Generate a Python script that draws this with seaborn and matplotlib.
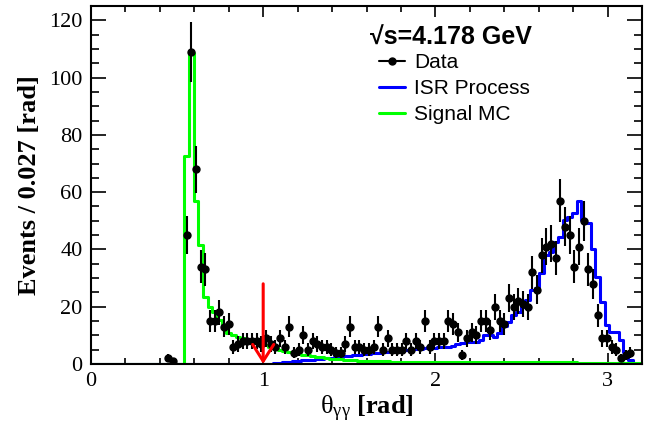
import numpy as np
import pandas as pd
import matplotlib
matplotlib.use('Agg')
import matplotlib.pyplot as plt
from matplotlib.lines import Line2D
from matplotlib.ticker import MultipleLocator
import seaborn as sns

# binning: 118 bins of ~0.027 rad over [0, 3.2]
N_BINS = 118
X_MAX = 3.2

# observed events per bin (empty bins are not drawn)
data_counts = [
    0, 0, 0, 0, 0, 0, 0, 0, 0, 0,
    0, 0, 0, 0, 0, 0, 2, 1, 0, 0,
    45, 109, 68, 34, 33, 15, 15, 18, 13, 14,
    6, 7, 8, 8, 8, 8, 7, 9, 7, 6,
    9, 6, 13, 4, 5, 10, 5, 8, 7, 6,
    6, 5, 4, 4, 7, 13, 6, 6, 5, 5,
    6, 13, 5, 9, 5, 5, 5, 8, 5, 8,
    6, 15, 6, 8, 8, 8, 15, 14, 11, 3,
    9, 11, 10, 15, 15, 12, 20, 15, 14, 23,
    20, 22, 21, 20, 32, 26, 38, 41, 42, 37,
    57, 48, 45, 34, 41, 50, 33, 28, 17, 9,
    9, 6, 5, 2, 3, 4, 0, 0,
]

# ISR background prediction per bin
isr_counts = [
    0, 0, 0, 0, 0, 0, 0, 0, 0, 0,
    0, 0, 0, 0, 0, 0, 0, 0, 0, 0,
    0, 0, 0, 0, 0, 0, 0, 0, 0, 0,
    0, 0, 0, 0, 0, 0, 0, 0, 0, 0.3,
    0.5, 0.6, 0.8, 1.0, 1.1, 1.3, 1.4, 1.5, 1.7, 1.9,
    2.0, 2.2, 2.3, 2.5, 2.7, 2.9, 3.0, 3.2, 3.5, 3.6,
    3.8, 4.0, 4.2, 4.3, 4.5, 4.6, 4.9, 4.8, 5.0, 5.1,
    5.3, 5.6, 5.8, 5.7, 5.9, 6.0, 6.1, 6.3, 7.0, 7.5,
    7.6, 7.8, 7.8, 8.4, 10.0, 10.0, 9.5, 10.8, 13.4, 14.8,
    17.1, 18.3, 20.0, 22.3, 25.8, 26.6, 31.6, 38.0, 39.2, 42.7,
    44.4, 50.2, 51.4, 52.6, 57.0, 50.2, 49.3, 40.0, 30.5, 21.7,
    13.6, 11.3, 11.3, 8.4, 4.3, 1.4, 0, 0,
]

# signal MC shape per bin
signal_counts = [
    0, 0, 0, 0, 0, 0, 0, 0, 0, 0,
    0, 0, 0, 0, 0, 0, 0, 0, 0, 0,
    72.5, 108.6, 57.0, 41.5, 23.5, 20.0, 18.3, 15.3, 12.4, 10.7,
    10.0, 9.6, 9.0, 8.4, 8.0, 7.6, 7.2, 6.6, 6.0, 5.5,
    5.0, 4.6, 4.2, 3.8, 3.5, 3.2, 3.0, 2.7, 2.5, 2.3,
    2.1, 1.9, 1.8, 1.6, 1.5, 1.4, 1.3, 1.2, 1.1, 1.05,
    1.0, 0.95, 0.9, 0.9, 0.85, 0.85, 0.8, 0.8, 0.8, 0.75,
    0.75, 0.7, 0.7, 0.7, 0.7, 0.65, 0.65, 0.65, 0.65, 0.6,
    0.6, 0.6, 0.6, 0.6, 0.6, 0.6, 0.6, 0.6, 0.6, 0.6,
    0.6, 0.6, 0.55, 0.55, 0.55, 0.55, 0.55, 0.55, 0.55, 0.55,
    0.55, 0.55, 0.55, 0.55, 0.5, 0.5, 0.5, 0.5, 0.5, 0.5,
    0.5, 0.5, 0.5, 0.5, 0.5, 0.5, 0.5, 0.5,
]

CUT_VALUE = 1.0
ARROW_TOP = 28

sns.set_theme(style='ticks')
plt.rcParams['font.family'] = ['Liberation Serif', 'DejaVu Serif']
plt.rcParams['text.color'] = 'black'
plt.rcParams['axes.labelcolor'] = 'black'
plt.rcParams['mathtext.fontset'] = 'custom'
plt.rcParams['mathtext.rm'] = 'Liberation Serif'
plt.rcParams['mathtext.it'] = 'Liberation Serif:italic'
plt.rcParams['mathtext.bf'] = 'Liberation Serif:bold'

edges = np.linspace(0, X_MAX, N_BINS + 1)
centers = 0.5 * (edges[:-1] + edges[1:])
df = pd.DataFrame({'theta': centers, 'data': data_counts,
                   'isr': isr_counts, 'signal': signal_counts})

fig = plt.figure(figsize=(6.59, 4.28), dpi=100)
ax = fig.add_axes([91 / 659, 64 / 428, 551 / 659, 358 / 428])

sns.histplot(data=df, x='theta', weights='isr', bins=list(edges),
             element='step', fill=False, color='#0000ff', linewidth=2.2, ax=ax)
sns.histplot(data=df, x='theta', weights='signal', bins=list(edges),
             element='step', fill=False, color='#00ff00', linewidth=2.2, ax=ax)

# data points with Poisson errors
pts = df[df['data'] > 0]
ax.errorbar(pts['theta'], pts['data'], yerr=np.sqrt(pts['data']), fmt='o',
            color='black', ms=5, elinewidth=1.5, capsize=0, zorder=4)

# cut position
ax.annotate('', xy=(CUT_VALUE, 0), xytext=(CUT_VALUE, ARROW_TOP),
            arrowprops=dict(arrowstyle='->,head_length=0.6,head_width=0.38',
                            color='#ff0000', lw=2.2, mutation_scale=20,
                            shrinkA=0, shrinkB=0),
            zorder=5)

ax.set_xlim(0, X_MAX)
ax.set_ylim(0, 125)
ax.xaxis.set_major_locator(MultipleLocator(1))
ax.xaxis.set_minor_locator(MultipleLocator(0.2))
ax.yaxis.set_major_locator(MultipleLocator(20))
ax.yaxis.set_minor_locator(MultipleLocator(5))
ax.tick_params(axis='both', which='both', direction='in', top=True, right=True,
               width=1.2, labelsize=16, colors='black')
ax.tick_params(axis='x', which='major', length=8, pad=6)
ax.tick_params(axis='x', which='minor', length=4.5)
ax.tick_params(axis='y', which='major', length=11, pad=6)
ax.tick_params(axis='y', which='minor', length=6)
for sp in ax.spines.values():
    sp.set_visible(True)
    sp.set_linewidth(1.5)
    sp.set_color('black')

ax.set_xlabel(r'$\mathrm{\theta_{\gamma\gamma}}$ [rad]', fontsize=19,
              fontweight='bold', labelpad=2)
ax.set_ylabel('Events / 0.027 [rad]', fontsize=19, fontweight='bold',
              labelpad=6)

# energy label above the legend
fig.text(370 / 659, 1 - 38 / 428, '\u221as=4.178 GeV', ha='left', va='center',
         family='Liberation Sans', fontweight='bold', fontsize=18,
         color='black')

handles = [
    Line2D([], [], color='black', marker='o', ms=5, lw=1.5),
    Line2D([], [], color='#0000ff', lw=2.2),
    Line2D([], [], color='#00ff00', lw=2.2),
]
labels = ['Data', 'ISR Process', 'Signal MC']
leg = ax.legend(handles, labels,
                loc='upper left', bbox_to_anchor=(369 / 659, 1 - 43 / 428),
                bbox_transform=fig.transFigure, frameon=False, borderpad=0,
                handlelength=1.25, handletextpad=0.42, labelspacing=0.33,
                prop={'family': 'Liberation Sans', 'size': 15})

fig.savefig('out.png', dpi=100)
plt.close(fig)
